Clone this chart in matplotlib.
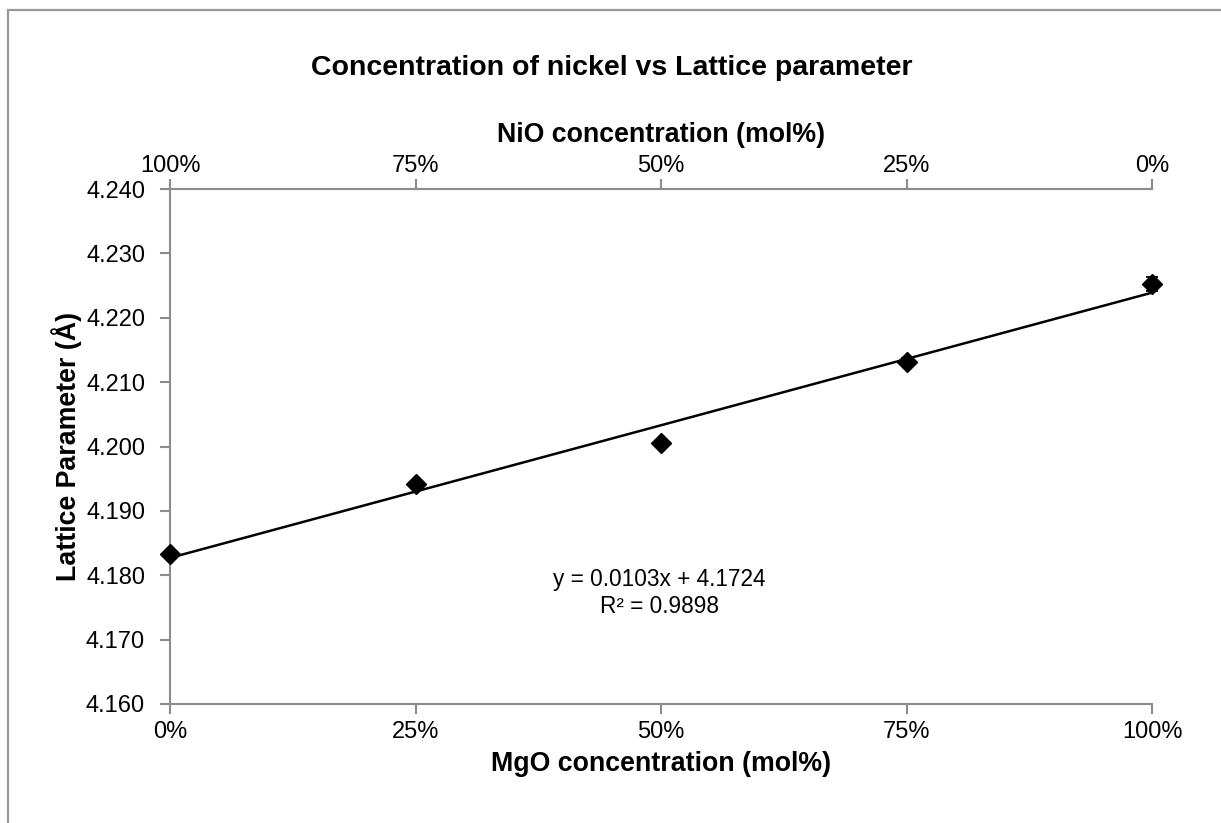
import matplotlib
matplotlib.use('Agg')
import matplotlib.pyplot as plt
import matplotlib.patches as patches
import numpy as np

# data
mgo_pct = [0, 25, 50, 75, 100]
lattice = [4.1833, 4.1942, 4.2006, 4.2132, 4.2253]
lattice_err = [0.0002, 0.0002, 0.0002, 0.0005, 0.0011]
xticks = [0, 25, 50, 75, 100]
xlabels = ['0%', '25%', '50%', '75%', '100%']
nio_labels = ['100%', '75%', '50%', '25%', '0%']
yticks = [4.160, 4.170, 4.180, 4.190, 4.200, 4.210, 4.220, 4.230, 4.240]

# trendline from Excel (x = point index 1..5)
slope = 0.0103
intercept = 4.1724

plt.rcParams['font.family'] = ['Liberation Sans', 'DejaVu Sans']
grey = '#8c8c8c'

fig = plt.figure(figsize=(12.21, 8.23), dpi=100)
W, H = 1221.0, 823.0
ax = fig.add_axes([170 / W, 1 - 704 / H, (1152 - 170) / W, (704 - 189) / H])

# outer chart frame (only left and top edges are inside the picture)
frame = patches.Rectangle((8 / W, -0.05), 1.2, 1 - 10 / H + 0.05, transform=fig.transFigure,
                          fill=False, edgecolor='#999999', linewidth=1.6, clip_on=False)
fig.patches.append(frame)

idx = np.arange(1, len(mgo_pct) + 1)
trend = slope * idx + intercept
ax.plot(mgo_pct, trend, color='black', linewidth=1.8, zorder=2, clip_on=False)
eb = ax.errorbar(mgo_pct, lattice, yerr=lattice_err, fmt='D', color='black', markersize=10.5,
                 ecolor='black', elinewidth=1.3, capsize=4.5, capthick=1.3, zorder=3)
for art in eb.lines[0:1] + tuple(eb.lines[1]) + tuple(eb.lines[2]):
    art.set_clip_on(False)

ax.set_xlim(0, 100)
ax.set_ylim(4.160, 4.240)
ax.set_xticks(xticks)
ax.set_xticklabels(xlabels)
ax.set_yticks(yticks)
ax.set_yticklabels(['%.3f' % v for v in yticks])
ax.tick_params(axis='both', direction='out', length=7, width=1.5, color=grey, labelsize=17)
ax.tick_params(axis='y', pad=11)
ax.tick_params(axis='x', pad=5)

ax.spines['right'].set_visible(False)
for s in ['left', 'bottom', 'top']:
    ax.spines[s].set_color(grey)
    ax.spines[s].set_linewidth(1.5)

ax2 = ax.twiny()
ax2.set_xlim(0, 100)
ax2.set_xticks(xticks)
ax2.set_xticklabels(nio_labels)
ax2.tick_params(axis='x', direction='out', length=7, width=1.5, color=grey, labelsize=17, pad=2)
for s in ['left', 'right', 'bottom']:
    ax2.spines[s].set_visible(False)
ax2.spines['top'].set_color(grey)
ax2.spines['top'].set_linewidth(1.5)

fig.text(661 / W, 1 - 135 / H, 'NiO concentration (mol%)', ha='center', va='center',
         fontsize=19.3, fontweight='bold')
fig.text(661 / W, 1 - 764 / H, 'MgO concentration (mol%)', ha='center', va='center',
         fontsize=19.3, fontweight='bold')
fig.text(67 / W, 1 - 446 / H, 'Lattice Parameter (Å)', ha='center', va='center',
         rotation=90, fontsize=19.3, fontweight='bold')
fig.text(612 / W, 1 - 68 / H, 'Concentration of nickel vs Lattice parameter',
         ha='center', va='center', fontsize=20.5, fontweight='bold')

ax.text(49.8, 4.1772, 'y = 0.0103x + 4.1724\nR² = 0.9898', ha='center', va='center',
        fontsize=16.3, linespacing=1.2)

plt.savefig('out.png', dpi=100)
plt.close()
